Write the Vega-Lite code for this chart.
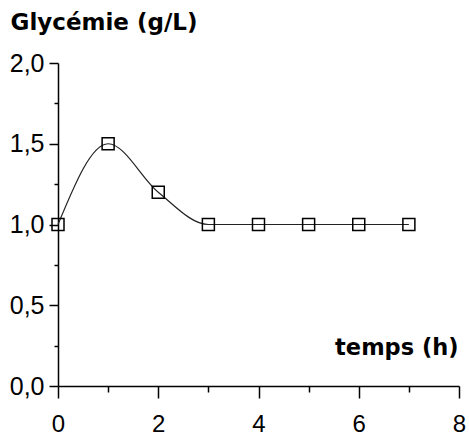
{
  "$schema": "https://vega.github.io/schema/vega-lite/v6.json",
  "width": 401,
  "height": 323,
  "autosize": "none",
  "padding": {"left": 58, "top": 63, "right": 10, "bottom": 51},
  "background": "white",
  "config": {"view": {"stroke": null}, "axis": {"grid": false}},
  "data": {"values": [
    {"temps": 0, "glycemie": 1.0},
    {"temps": 1, "glycemie": 1.5},
    {"temps": 2, "glycemie": 1.2},
    {"temps": 3, "glycemie": 1.0},
    {"temps": 4, "glycemie": 1.0},
    {"temps": 5, "glycemie": 1.0},
    {"temps": 6, "glycemie": 1.0},
    {"temps": 7, "glycemie": 1.0}
  ]},
  "encoding": {
    "x": {
      "field": "temps", "type": "quantitative",
      "scale": {"domain": [0, 8], "nice": false, "zero": false},
      "axis": {
        "values": [0, 1, 2, 3, 4, 5, 6, 7, 8],
        "labelExpr": "datum.value % 2 == 0 ? datum.label : ''",
        "labelFlush": false, "labelOverlap": false, "labelBound": false,
        "labelFont": "Liberation Sans", "labelFontSize": 24, "labelColor": "black",
        "labelPadding": 14,
        "tickSize": {"condition": {"test": "datum.value % 2 == 1", "value": 6}, "value": 12},
        "tickColor": "black", "tickWidth": 1.5,
        "domainColor": "black", "domainWidth": 1.5,
        "title": "temps (h)",
        "titleFont": "DejaVu Sans", "titleFontWeight": "bold", "titleFontSize": 22.5, "titleColor": "black",
        "titleAnchor": "end", "titleAlign": "right", "titleBaseline": "alphabetic",
        "titleX": 400, "titleY": -32
      }
    },
    "y": {
      "field": "glycemie", "type": "quantitative",
      "scale": {"domain": [0, 2], "nice": false},
      "axis": {
        "values": [0, 0.25, 0.5, 0.75, 1, 1.25, 1.5, 1.75, 2],
        "labelExpr": "(datum.value * 2) % 1 == 0 ? replace(format(datum.value, '.1f'), '.', ',') : ''",
        "labelOverlap": false, "labelBound": false, "labelFlush": false,
        "labelFont": "Liberation Sans", "labelFontSize": 25, "labelColor": "black",
        "labelPadding": 5,
        "tickSize": {"condition": {"test": "(datum.value * 4) % 2 == 1", "value": 4}, "value": 9},
        "tickColor": "black", "tickWidth": 1.5,
        "domainColor": "black", "domainWidth": 1.5,
        "title": "Glycémie (g/L)",
        "titleFont": "DejaVu Sans", "titleFontWeight": "bold", "titleFontSize": 23, "titleColor": "black",
        "titleAngle": 0, "titleAlign": "left", "titleBaseline": "alphabetic",
        "titleX": -48, "titleY": -34
      }
    }
  },
  "layer": [
    {"mark": {"type": "line", "interpolate": "monotone", "color": "#222222", "strokeWidth": 1.2}},
    {"mark": {"type": "point", "shape": "square", "filled": false, "size": 144, "color": "black", "strokeWidth": 1.5, "opacity": 1}}
  ]
}
